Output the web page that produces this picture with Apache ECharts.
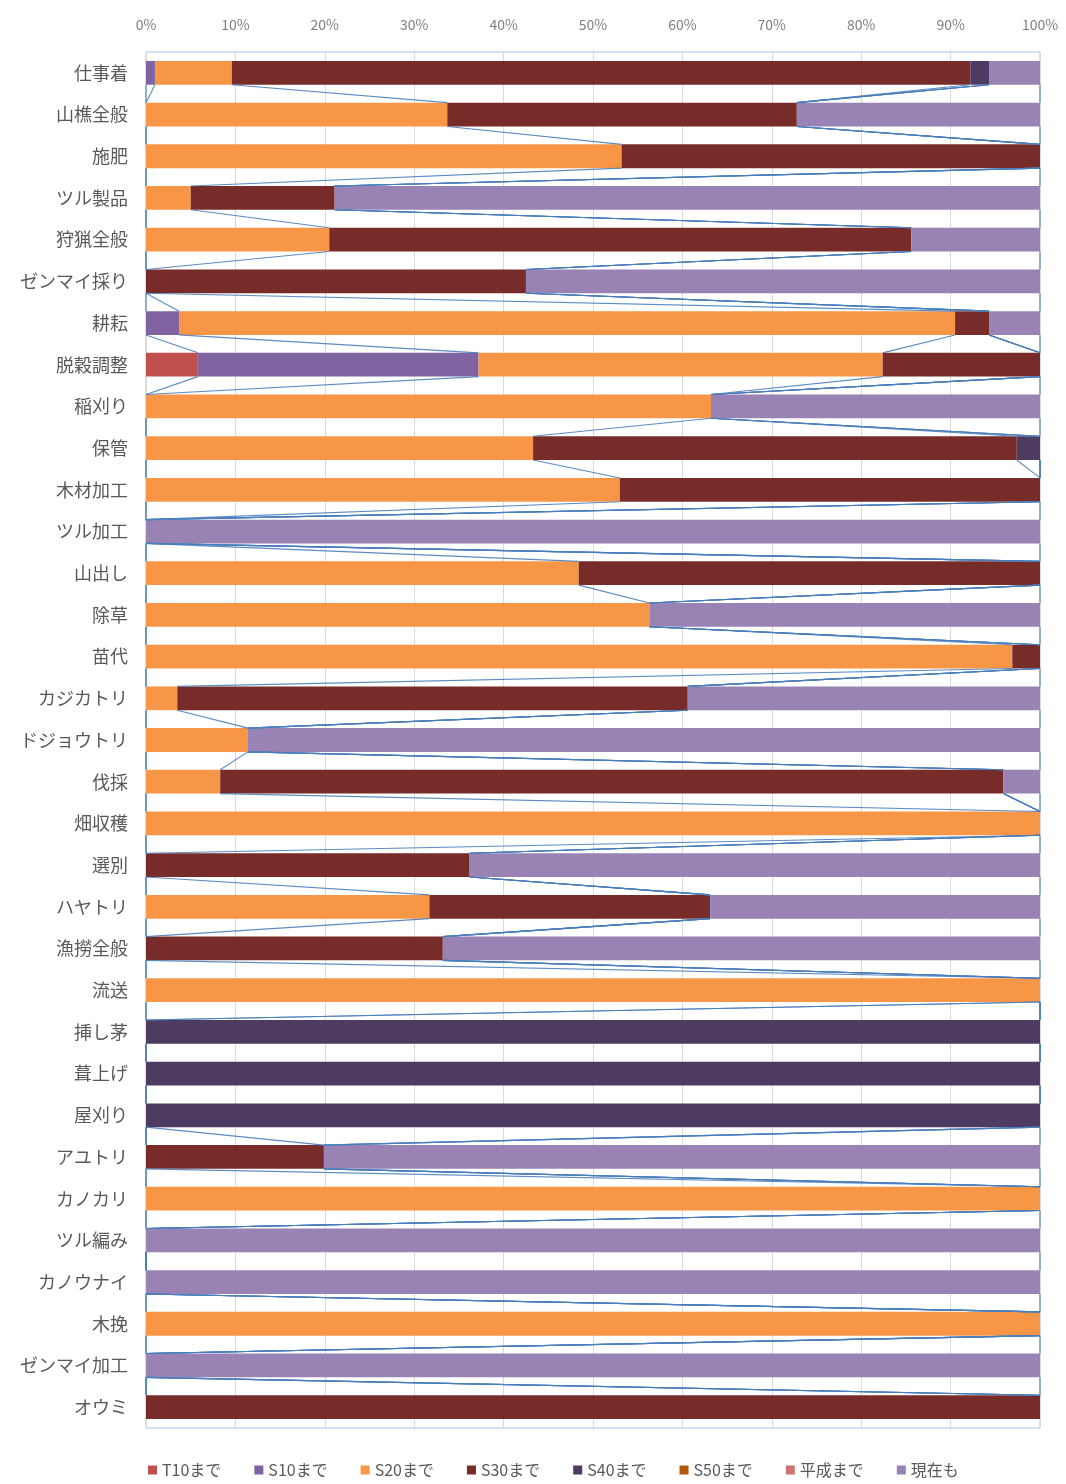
<!DOCTYPE html>
<html>
<head>
<meta charset="utf-8">
<script src="https://cdn.jsdelivr.net/npm/echarts@6/dist/echarts.min.js"></script>
<style>
html,body{margin:0;padding:0;background:#fff;}
#chart{width:1066px;height:1484px;}
</style>
</head>
<body>
<div id="chart"></div>
<script>
const categories = ['仕事着','山樵全般','施肥','ツル製品','狩猟全般','ゼンマイ採り','耕耘','脱穀調整','稲刈り','保管','木材加工','ツル加工','山出し','除草','苗代','カジカトリ','ドジョウトリ','伐採','畑収穫','選別','ハヤトリ','漁撈全般','流送','挿し茅','葺上げ','屋刈り','アユトリ','カノカリ','ツル編み','カノウナイ','木挽','ゼンマイ加工','オウミ'];
const seriesNames = ['T10まで','S10まで','S20まで','S30まで','S40まで','S50まで','平成まで','現在も'];
const xTicks = [0,10,20,30,40,50,60,70,80,90,100];

const T10 = [0,0,0,0,0,0,0,5.8,0,0,0,0,0,0,0,0,0,0,0,0,0,0,0,0,0,0,0,0,0,0,0,0,0];
const S10 = [1.0,0,0,0,0,0,3.7,31.4,0,0,0,0,0,0,0,0,0,0,0,0,0,0,0,0,0,0,0,0,0,0,0,0,0];
const S20 = [8.6,33.7,53.2,5.0,20.5,0,86.8,45.2,63.2,43.3,53.0,0,48.4,56.3,96.9,3.5,11.4,8.3,100,0,31.7,0,100,0,0,0,0,100,0,0,100,0,0];
const S30 = [82.6,39.1,46.8,16.1,65.1,42.5,3.8,17.6,0,54.1,47.0,0,51.6,0,3.1,57.1,0,87.6,0,36.2,31.4,33.2,0,0,0,0,19.9,0,0,0,0,0,100];
const S40 = [2.1,0,0,0,0,0,0,0,0,2.6,0,0,0,0,0,0,0,0,0,0,0,0,0,100,100,100,0,0,0,0,0,0,0];
const S50 = [0,0,0,0,0,0,0,0,0,0,0,0,0,0,0,0,0,0,0,0,0,0,0,0,0,0,0,0,0,0,0,0,0];
const H   = [0,0,0,0,0,0,0,0,0,0,0,0,0,0,0,0,0,0,0,0,0,0,0,0,0,0,0,0,0,0,0,0,0];
const NOW = [5.7,27.2,0,78.9,14.4,57.5,5.7,0,36.8,0,0,100,0,43.7,0,39.4,88.6,4.1,0,63.8,36.9,66.8,0,0,0,0,80.1,0,100,100,0,100,0];

const allSeries = [T10,S10,S20,S30,S40,S50,H,NOW];
const colors = ['#C0504D','#8064A2','#F79646','#772C2A','#4D3B62','#B65708','#CD7371','#9983B5'];
const BAR_FRAC = 0.57;
const FONT = '"Noto Sans CJK JP","Noto Sans",sans-serif';

const chart = echarts.init(document.getElementById('chart'));

const barSeries = seriesNames.map((n,k)=>({
  name:n, type:'bar', stack:'total', barWidth:(BAR_FRAC*100)+'%',
  itemStyle:{color:colors[k]}, data:allSeries[k], z:2
}));

function renderSeriesLines(params, api){
  const i = api.value(1);
  const band = api.size([0,1])[1];
  const half = band*BAR_FRAC/2;
  const children = [];
  let c1 = 0, c2 = 0;
  for(let k=0;k<allSeries.length;k++){
    c1 += allSeries[k][i];
    c2 += allSeries[k][i+1];
    const p1 = api.coord([Math.min(c1,100), i]);
    const p2 = api.coord([Math.min(c2,100), i+1]);
    children.push({type:'line', shape:{x1:p1[0],y1:p1[1]+half,x2:p2[0],y2:p2[1]-half},
      style:{stroke:'#4A7EBB', lineWidth:1.1, opacity:0.9}});
  }
  return {type:'group', children};
}

chart.setOption({
  animation:false,
  textStyle:{fontFamily:FONT},
  grid:{left:146,right:26,top:52,bottom:56,show:true,borderColor:'#A7C1E4',borderWidth:1,backgroundColor:'transparent'},
  legend:{
    data:seriesNames, bottom:1, left:143, itemWidth:9, itemHeight:9, itemGap:33,
    icon:'rect', textStyle:{fontSize:16,color:'#595959',fontFamily:FONT}
  },
  xAxis:{
    type:'value', position:'top', min:0, max:100, interval:10,
    axisLine:{show:false}, axisTick:{show:false},
    splitLine:{show:true,lineStyle:{color:'#D9D9D9',width:1}},
    axisLabel:{formatter:v=>xTicks.includes(v)?v+'%':'', fontSize:14, color:'#7F7F7F', margin:20, fontFamily:FONT}
  },
  yAxis:{
    type:'category', data:categories, inverse:true,
    axisLine:{show:false}, axisTick:{show:false},
    axisLabel:{fontSize:18, color:'#595959', margin:18, fontFamily:FONT}
  },
  series:[...barSeries, {
    type:'custom', name:'series-lines', renderItem:renderSeriesLines,
    data:categories.slice(0,-1).map((c,i)=>[0,i]), encode:{x:0,y:1}, z:3, silent:true
  }]
});
</script>
</body>
</html>
